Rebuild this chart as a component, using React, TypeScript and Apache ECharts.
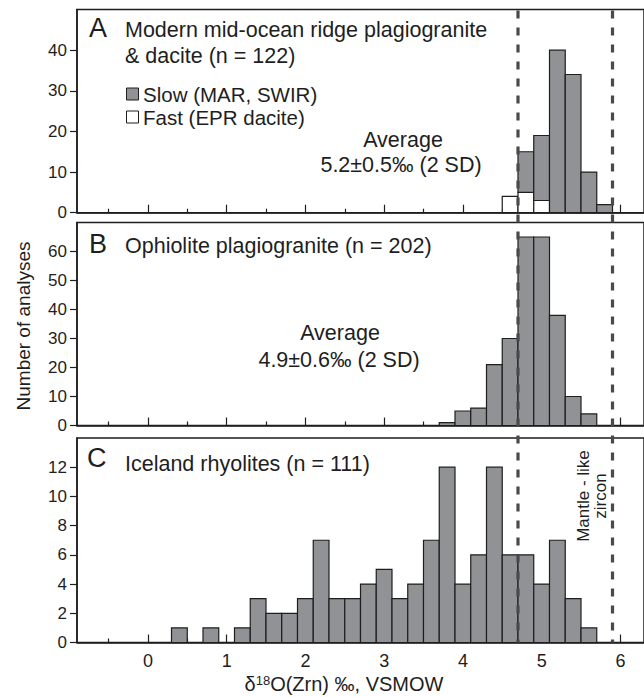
import React, { useEffect, useRef } from "react";
import * as echarts from "echarts";

// Histogram bin width (‰) and shared x range
const BIN = 0.2;
const X_MIN = -0.9;
const X_MAX = 6.3;
const X_MAJOR = [0, 1, 2, 3, 4, 5, 6];
const X_MINOR = [-0.5, 0.5, 1.5, 2.5, 3.5, 4.5, 5.5];

// Mantle-like zircon window (‰)
const MANTLE_LOW = 4.7;
const MANTLE_HIGH = 5.9;

// A: modern mid-ocean ridge plagiogranite & dacite
const morSlowBins = [4.8, 5.0, 5.2, 5.4, 5.6, 5.8];
const morSlowCounts = [10, 16, 40, 34, 10, 2];
const morFastBins = [4.6, 4.8, 5.0];
const morFastCounts = [4, 5, 3];

// B: ophiolite plagiogranite
const ophBins = [3.8, 4.0, 4.2, 4.4, 4.6, 4.8, 5.0, 5.2, 5.4, 5.6];
const ophCounts = [1, 5, 6, 21, 30, 65, 65, 38, 10, 4];

// C: Iceland rhyolites
const iceBins = [0.4, 0.8, 1.2, 1.4, 1.6, 1.8, 2.0, 2.2, 2.4, 2.6, 2.8, 3.0, 3.2,
  3.4, 3.6, 3.8, 4.0, 4.2, 4.4, 4.6, 4.8, 5.0, 5.2, 5.4, 5.6];
const iceCounts = [1, 1, 1, 3, 2, 2, 3, 7, 3, 3, 4, 5, 3, 4, 7, 12, 4, 6, 12, 6, 6,
  4, 7, 3, 1];

// y axes
const yTicksA = [0, 10, 20, 30, 40];
const yMaxA = 50;
const yTicksB = [0, 10, 20, 30, 40, 50, 60];
const yMaxB = 70;
const yTicksC = [0, 2, 4, 6, 8, 10, 12];
const yMaxC = 14;

const FONT = "'Liberation Sans', Arial, Helvetica, sans-serif";
const INK = "#1e1e1e";
const BAR_GRAY = "#919296";

const GRIDS = [
  { top: 9.5, height: 203.2 },
  { top: 222.5, height: 203 },
  { top: 438, height: 204.5 },
];

function baseFor(bins: number[], counts: number[], x: number) {
  const i = bins.findIndex((b) => Math.abs(b - x) < 1e-6);
  return i >= 0 ? counts[i] : 0;
}

function histSeries(
  gridIdx: number,
  bins: number[],
  counts: number[],
  fill: string,
  base?: (x: number) => number
) {
  return {
    type: "custom",
    xAxisIndex: gridIdx * 2,
    yAxisIndex: gridIdx,
    clip: false,
    z: 2,
    data: bins.map((b, i) => [b, counts[i], base ? base(b) : 0]),
    encode: { x: [0], y: [1] },
    renderItem: (_params: any, api: any) => {
      const c = api.value(0);
      const v = api.value(1);
      const b = api.value(2);
      const p0 = api.coord([c - BIN / 2, b + v]);
      const p1 = api.coord([c + BIN / 2, b]);
      return {
        type: "rect",
        shape: { x: p0[0], y: p0[1], width: p1[0] - p0[0], height: p1[1] - p0[1] },
        style: { fill, stroke: INK, lineWidth: 1.2 },
      };
    },
  };
}

function txt(x: number, y: number, text: string, size: number, align = "left", extra: any = {}) {
  return {
    type: "text",
    x,
    y,
    z: 10,
    ...extra,
    style: {
      text,
      fill: INK,
      fontSize: size,
      fontFamily: FONT,
      align,
      verticalAlign: "middle",
    },
  };
}

export default function App() {
  const ref = useRef<HTMLDivElement>(null);

  useEffect(() => {
    if (!ref.current) return;
    const chart = echarts.init(ref.current, null, { renderer: "svg" });

    const xAxes: any[] = [];
    GRIDS.forEach((_, i) => {
      xAxes.push({
        type: "value",
        gridIndex: i,
        min: X_MIN,
        max: X_MAX,
        position: "bottom",
        axisLine: { show: true, onZero: false, lineStyle: { color: INK, width: 1.5 } },
        axisTick: {
          show: true,
          inside: true,
          length: 8,
          customValues: X_MAJOR,
          lineStyle: { color: INK, width: 1.2 },
        },
        axisLabel:
          i === 2
            ? { show: true, customValues: X_MAJOR, fontSize: 18, color: INK, fontFamily: FONT, margin: 9 }
            : { show: false },
        splitLine: { show: false },
      });
      xAxes.push({
        type: "value",
        gridIndex: i,
        min: X_MIN,
        max: X_MAX,
        position: "bottom",
        axisLine: { show: false, onZero: false },
        axisTick: {
          show: true,
          inside: true,
          length: 4,
          customValues: X_MINOR,
          lineStyle: { color: INK, width: 1.2 },
        },
        axisLabel: { show: false },
        splitLine: { show: false },
      });
    });

    const yDefs = [
      { ticks: yTicksA, max: yMaxA },
      { ticks: yTicksB, max: yMaxB },
      { ticks: yTicksC, max: yMaxC },
    ];
    const yAxes = yDefs.map((d, i) => ({
      type: "value",
      gridIndex: i,
      min: 0,
      max: d.max,
      position: "left",
      axisLine: { show: true, onZero: false, lineStyle: { color: INK, width: 1.5 } },
      axisTick: {
        show: true,
        inside: false,
        length: 7,
        customValues: d.ticks,
        lineStyle: { color: INK, width: 1.2 },
      },
      axisLabel: {
        show: true,
        customValues: d.ticks,
        fontSize: 17,
        color: INK,
        fontFamily: FONT,
        margin: 10,
      },
      splitLine: { show: false },
    }));

    const fastBase = (x: number) => baseFor(morFastBins, morFastCounts, x);

    chart.setOption({
      animation: false,
      backgroundColor: "#ffffff",
      grid: GRIDS.map((g) => ({
        left: 77,
        right: -3,
        top: g.top,
        height: g.height,
        show: true,
        borderColor: INK,
        borderWidth: 1.5,
        backgroundColor: "transparent",
      })),
      xAxis: xAxes,
      yAxis: yAxes,
      series: [
        histSeries(0, morFastBins, morFastCounts, "#ffffff"),
        histSeries(0, morSlowBins, morSlowCounts, BAR_GRAY, fastBase),
        histSeries(1, ophBins, ophCounts, BAR_GRAY),
        histSeries(2, iceBins, iceCounts, BAR_GRAY),
      ],
    });

    // Mantle-like window lines run through all three panels
    const xLow = chart.convertToPixel({ xAxisIndex: 0 }, MANTLE_LOW) as number;
    const xHigh = chart.convertToPixel({ xAxisIndex: 0 }, MANTLE_HIGH) as number;
    const yTop = GRIDS[0].top + 1;
    const yBottom = GRIDS[2].top + GRIDS[2].height;
    const dashed = (x: number) => ({
      type: "line",
      z: 20,
      shape: { x1: x, y1: yTop, x2: x, y2: yBottom },
      style: { stroke: "#4a4a4a", lineWidth: 3.2, lineDash: [8, 9] },
    });

    chart.setOption({
      graphic: [
        dashed(xLow),
        dashed(xHigh),
        // panel A
        txt(89, 28, "A", 27),
        txt(125, 30, "Modern mid-ocean ridge plagiogranite", 21.5),
        txt(125, 56, "& dacite (n = 122)", 21.5),
        {
          type: "rect",
          z: 10,
          shape: { x: 126.5, y: 88, width: 12, height: 12 },
          style: { fill: BAR_GRAY, stroke: INK, lineWidth: 1 },
        },
        {
          type: "rect",
          z: 10,
          shape: { x: 126.5, y: 111, width: 12, height: 12 },
          style: { fill: "#ffffff", stroke: INK, lineWidth: 1 },
        },
        txt(143, 94, "Slow (MAR, SWIR)", 20.5),
        txt(143, 117, "Fast (EPR dacite)", 20.5),
        txt(403, 140, "Average", 21.5, "center"),
        txt(401, 165, "5.2±0.5‰ (2 SD)", 21.5, "center"),
        // panel B
        txt(89, 244, "B", 27),
        txt(125, 246, "Ophiolite plagiogranite (n = 202)", 21.5),
        txt(340, 333, "Average", 21.5, "center"),
        txt(339, 360, "4.9±0.6‰ (2 SD)", 21.5, "center"),
        // panel C
        txt(87, 458, "C", 27),
        txt(125, 464, "Iceland rhyolites (n = 111)", 21.5),
        {
          type: "text",
          x: 592,
          y: 496,
          rotation: Math.PI / 2,
          z: 10,
          style: {
            text: "Mantle - like\nzircon",
            fill: INK,
            fontSize: 17,
            fontFamily: FONT,
            align: "center",
            verticalAlign: "middle",
            lineHeight: 17,
          },
        },
        // axis titles
        {
          type: "text",
          x: 23,
          y: 326,
          rotation: Math.PI / 2,
          z: 10,
          style: {
            text: "Number of analyses",
            fill: INK,
            fontSize: 19,
            fontFamily: FONT,
            align: "center",
            verticalAlign: "middle",
          },
        },
        {
          type: "text",
          x: 344,
          y: 684,
          z: 10,
          style: {
            text: "{n|δ}{s|18}{n|O(Zrn) ‰, VSMOW}",
            align: "center",
            verticalAlign: "middle",
            rich: {
              n: { fontSize: 20, fontFamily: FONT, fill: INK },
              s: { fontSize: 13, fontFamily: FONT, fill: INK, padding: [0, 0, 8, 0] },
            },
          },
        },
      ],
    });

    return () => chart.dispose();
  }, []);

  return (
    <div
      ref={ref}
      style={{ position: "fixed", left: 0, top: 0, width: 644, height: 697, background: "#fff" }}
    />
  );
}
